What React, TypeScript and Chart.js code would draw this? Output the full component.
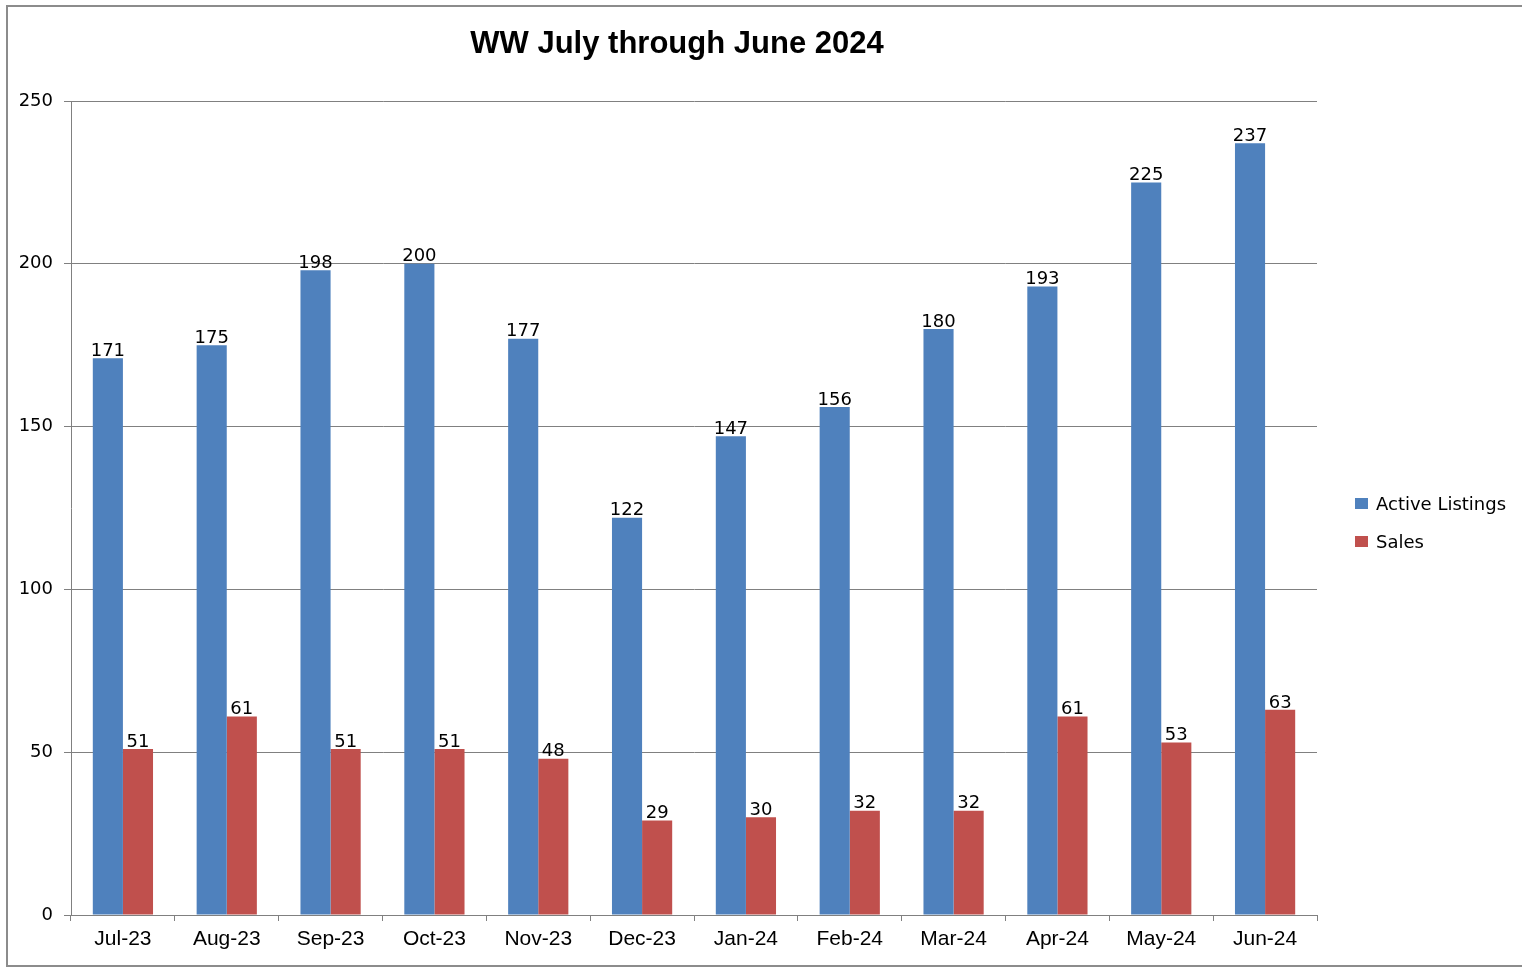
import React, { useEffect, useRef } from "react";
import { Chart, registerables } from "chart.js";

Chart.register(...registerables);

const categories = ["Jul-23", "Aug-23", "Sep-23", "Oct-23", "Nov-23", "Dec-23", "Jan-24", "Feb-24", "Mar-24", "Apr-24", "May-24", "Jun-24"];
const activeListings = [171, 175, 198, 200, 177, 122, 147, 156, 180, 193, 225, 237];
const sales = [51, 61, 51, 51, 48, 29, 30, 32, 32, 61, 53, 63];
const seriesNames = ["Active Listings", "Sales"];
const seriesColors = ["#4F81BD", "#C0504D"];
const titleText = "WW July through June 2024";

const W = 1522;
const H = 971;

const framePlugin = {
  id: "frame",
  beforeDraw(chart: any) {
    const ctx = chart.ctx;
    ctx.save();
    ctx.fillStyle = "#ffffff";
    ctx.fillRect(0, 0, chart.width, chart.height);
    ctx.strokeStyle = "#8c8c8c";
    ctx.lineWidth = 2;
    ctx.strokeRect(7, 6, chart.width + 20, 960);
    ctx.restore();
  },
  afterDraw(chart: any) {
    const ctx = chart.ctx;
    ctx.save();
    // title
    ctx.fillStyle = "#000000";
    ctx.font = "bold 31px 'Liberation Sans', Arial, sans-serif";
    ctx.textAlign = "center";
    ctx.textBaseline = "middle";
    ctx.fillText(titleText, 677, 44);
    // legend
    const items = chart.data.datasets;
    ctx.font = "18px 'DejaVu Sans', sans-serif";
    ctx.textAlign = "left";
    items.forEach((ds: any, i: number) => {
      const cy = 505 + i * 38;
      ctx.fillStyle = ds.backgroundColor;
      ctx.fillRect(1355, cy - 7, 13, 11);
      ctx.fillStyle = "#000000";
      ctx.fillText(ds.label, 1376, cy);
    });
    ctx.restore();
  },
  afterDatasetsDraw(chart: any) {
    const ctx = chart.ctx;
    ctx.save();
    ctx.fillStyle = "#000000";
    ctx.font = "18px 'DejaVu Sans', sans-serif";
    ctx.textAlign = "center";
    ctx.textBaseline = "bottom";
    chart.data.datasets.forEach((ds: any, di: number) => {
      const meta = chart.getDatasetMeta(di);
      meta.data.forEach((el: any, i: number) => {
        ctx.fillText(String(ds.data[i]), el.x, el.y + 2);
      });
    });
    ctx.restore();
  },
};

export default function App() {
  const ref = useRef<HTMLCanvasElement | null>(null);
  useEffect(() => {
    if (!ref.current) return;
    const chart = new Chart(ref.current, {
      type: "bar",
      data: {
        labels: categories,
        datasets: [
          { label: seriesNames[0], data: activeListings, backgroundColor: seriesColors[0], categoryPercentage: 0.58, barPercentage: 1 },
          { label: seriesNames[1], data: sales, backgroundColor: seriesColors[1], categoryPercentage: 0.58, barPercentage: 1 },
        ],
      },
      options: {
        responsive: false,
        animation: false,
        layout: { padding: { left: 1, right: W - 1317, top: 101, bottom: 6 } },
        plugins: {
          legend: { display: false },
          title: { display: false },
          tooltip: { enabled: false },
        },
        scales: {
          x: {
            grid: { display: true, drawOnChartArea: false, drawTicks: true, tickLength: 6, color: "#808080", offset: true },
            border: { display: true, color: "#808080", width: 1 },
            ticks: { color: "#000000", padding: 6, font: { family: "'Liberation Sans', Arial, sans-serif", size: 21 }, maxRotation: 0, autoSkip: false },
            afterFit(scale: any) {
              scale.height = 50;
            },
          },
          y: {
            min: 0,
            max: 250,
            ticks: { stepSize: 50, color: "#000000", padding: 11, font: { family: "'DejaVu Sans', sans-serif", size: 18 } },
            grid: { color: "#808080", tickLength: 7, drawTicks: true },
            border: { display: true, color: "#808080", width: 1 },
            afterFit(scale: any) {
              scale.width = 70;
            },
          },
        },
      },
      plugins: [framePlugin],
    });
    return () => chart.destroy();
  }, []);
  return (
    <canvas
      ref={ref}
      width={W}
      height={H}
      style={{ position: "absolute", left: 0, top: 0, width: W + "px", height: H + "px" }}
    />
  );
}
